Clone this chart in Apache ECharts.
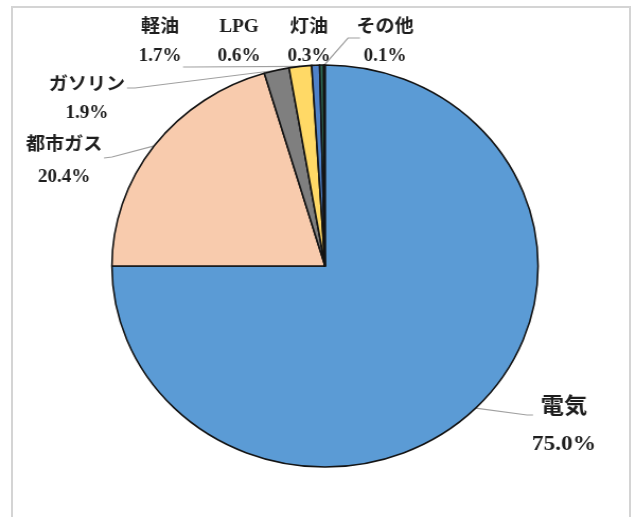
<!DOCTYPE html>
<html>
<head>
<meta charset="utf-8">
<script src="https://cdn.jsdelivr.net/npm/echarts@6/dist/echarts.min.js"></script>
<style>
  html, body { margin: 0; padding: 0; background: #fff; }
  body { width: 638px; height: 517px; overflow: hidden; position: relative; }
  #frame { position: absolute; left: 11px; top: 6px; width: 620px; height: 530px; border: 2px solid #d4d4d4; box-sizing: border-box; }
  #chart { position: absolute; left: 0; top: 0; width: 602px; height: 517px; transform: scaleX(1.06); transform-origin: 0 0; }
</style>
</head>
<body>
<div id="frame"></div>
<div id="chart"></div>
<script>
// ---- data ----
const categories = ['電気', '都市ガス', 'ガソリン', '軽油', 'LPG', '灯油', 'その他'];
const shares = [75.0, 20.4, 1.9, 1.7, 0.6, 0.3, 0.1];
const percentLabels = ['75.0%', '20.4%', '1.9%', '1.7%', '0.6%', '0.3%', '0.1%'];

// ---- style / layout (picture pixels) ----
const S = 1.06; // horizontal stretch of the reference picture
const colors = ['#5B9BD5', '#F8CBAD', '#7F7F7F', '#FFD966', '#4F81C9', '#2F6B55', '#111111'];
const labelCfg = [
  { x: 564, y: 426, lh: 37, fs: 22, line: [[527, 415], [533, 415]] },
  { x: 64,  y: 161, lh: 32, fs: 18, line: [[112, 157], [104, 158]] },
  { x: 87,  y: 99,  lh: 28, fs: 18, line: [[135, 88], [127, 88]] },
  { x: 160, y: 42,  lh: 29, fs: 18, line: [[190, 67], [183, 67]] },
  { x: 239, y: 42,  lh: 29, fs: 18, line: null },
  { x: 309, y: 42,  lh: 29, fs: 18, line: null },
  { x: 385, y: 42,  lh: 29, fs: 18, line: [[348, 38], [360, 38]] }
];

const chart = echarts.init(document.getElementById('chart'), null, { renderer: 'canvas' });
const txt = '#1e1e1e';
const fontFam = '"Liberation Serif", "Noto Sans CJK JP", serif';

const data = categories.map((name, i) => ({
  name: name,
  value: shares[i],
  itemStyle: { color: colors[i] },
  label: {
    formatter: '{n|' + name + '}\n{p|' + percentLabels[i] + '}',
    rich: {
      n: { fontSize: labelCfg[i].fs, fontWeight: 'bold', fontFamily: fontFam, color: txt, lineHeight: labelCfg[i].lh, align: 'center' },
      p: { fontSize: labelCfg[i].fs, fontWeight: 'bold', fontFamily: fontFam, color: txt, lineHeight: labelCfg[i].lh, align: 'center' }
    }
  },
  labelLine: { show: !!labelCfg[i].line }
}));

chart.setOption({
  animation: false,
  series: [{
    type: 'pie',
    center: [325 / S, 266],
    radius: 201,
    startAngle: 90,
    clockwise: true,
    avoidLabelOverlap: false,
    itemStyle: { borderColor: '#141414', borderWidth: 1.6 },
    label: { show: true, position: 'outside', align: 'center' },
    labelLine: { show: true, smooth: false, lineStyle: { color: '#a0a0a0', width: 1.2 } },
    emphasis: { disabled: true },
    data: data,
    labelLayout: function (params) {
      const c = labelCfg[params.dataIndex];
      const out = { x: c.x / S, y: c.y, align: 'center', verticalAlign: 'middle', hideOverlap: false };
      if (c.line && params.labelLinePoints) {
        out.labelLinePoints = [
          params.labelLinePoints[0],
          [c.line[0][0] / S, c.line[0][1]],
          [c.line[1][0] / S, c.line[1][1]]
        ];
      }
      return out;
    }
  }]
});
</script>
</body>
</html>
